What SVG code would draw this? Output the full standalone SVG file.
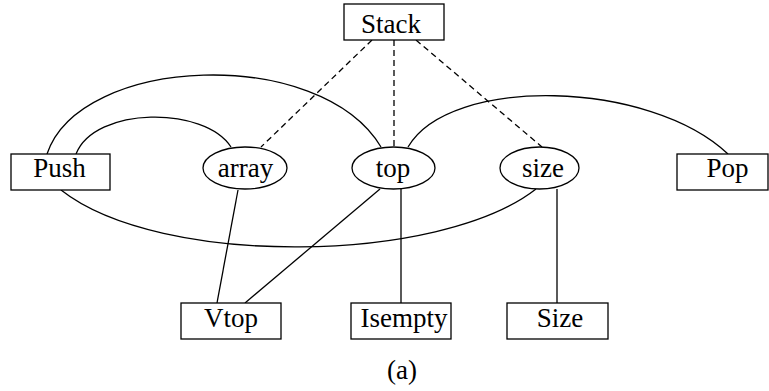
<svg xmlns="http://www.w3.org/2000/svg" width="769" height="391" viewBox="0 0 769 391">
  <style>
    .box { fill: #fff; stroke: #000; stroke-width: 1.3; }
    .edge { fill: none; stroke: #000; stroke-width: 1.3; }
    .dash { stroke-dasharray: 6 4; }
    text { font-family: "Liberation Serif", "Times New Roman", serif; font-size: 27px; fill: #000; text-anchor: middle; }
  </style>
  <rect width="769" height="391" fill="#fff"/>

  <g id="connectors">
    <!-- membership links from Stack -->
    <line class="edge dash" x1="372" y1="40" x2="261" y2="147"/>
    <line class="edge dash" x1="394" y1="40" x2="394" y2="147"/>
    <line class="edge dash" x1="416" y1="40" x2="542" y2="147"/>
    <!-- arcs -->
    <path class="edge" d="M47,154 C80,55 320,45 381,147"/>
    <path class="edge" d="M76,154 C95,106 205,106 231,147"/>
    <path class="edge" d="M408,147 C450,75 650,80 728,154"/>
    <path class="edge" d="M61,190 C160,268 440,264 536,189"/>
    <!-- straight links -->
    <line class="edge" x1="238" y1="190" x2="217" y2="303"/>
    <line class="edge" x1="380" y1="189" x2="245" y2="303"/>
    <line class="edge" x1="401" y1="189" x2="401" y2="303"/>
    <line class="edge" x1="557" y1="189" x2="557" y2="303"/>
  </g>

  <g id="stack">
    <rect class="box" x="344" y="4" width="100" height="36"/>
    <text x="391" y="33">Stack</text>
  </g>
  <g id="push">
    <rect class="box" x="11" y="154" width="99" height="36"/>
    <text x="59.5" y="177">Push</text>
  </g>
  <g id="array">
    <ellipse class="box" cx="245" cy="168" rx="42" ry="21"/>
    <text x="245.5" y="177">array</text>
  </g>
  <g id="top">
    <ellipse class="box" cx="393.5" cy="168" rx="41.5" ry="21"/>
    <text x="393" y="177">top</text>
  </g>
  <g id="size">
    <ellipse class="box" cx="539.5" cy="168" rx="39.5" ry="21"/>
    <text x="543" y="177">size</text>
  </g>
  <g id="pop">
    <rect class="box" x="677" y="154" width="91" height="36"/>
    <text x="727.5" y="177">Pop</text>
  </g>
  <g id="vtop">
    <rect class="box" x="181" y="303" width="100" height="36"/>
    <text x="231" y="327">Vtop</text>
  </g>
  <g id="isempty">
    <rect class="box" x="351" y="303" width="100" height="36"/>
    <text x="404" y="327">Isempty</text>
  </g>
  <g id="size-op">
    <rect class="box" x="507" y="303" width="101" height="36"/>
    <text x="560" y="327">Size</text>
  </g>

  <text id="caption" x="402" y="379">(a)</text>
</svg>
